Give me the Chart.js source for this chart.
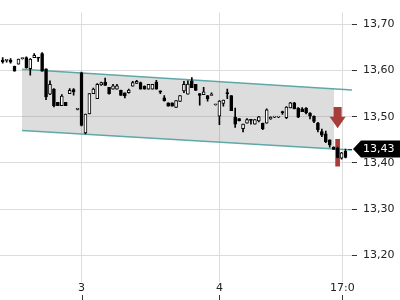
<!DOCTYPE html>
<html>
<head>
<meta charset="utf-8">
<script src="https://cdn.jsdelivr.net/npm/chart.js@4.4.0/dist/chart.umd.min.js"></script>
<style>
  html, body { margin: 0; padding: 0; background: #fff; }
</style>
</head>
<body>
<canvas id="grafikSaham" width="400" height="300"></canvas>
<script>
// Data candle 15 menit (indeks 20 = pembukaan hari 3, indeks 55 = pembukaan hari 4).
const hargaBuka = [
    13.623, 13.622, 13.623, 13.609, 13.614, 13.626, 13.628, 13.604, 13.628, 13.629,
    13.637, 13.604, 13.549, 13.560, 13.531, 13.524, 13.531, 13.550, 13.559, 13.516,
    13.595, 13.465, 13.506, 13.550, 13.539, 13.569, 13.575, 13.564, 13.560, 13.560,
    13.557, 13.552, 13.552, 13.566, 13.572, 13.574, 13.566, 13.560, 13.560, 13.575,
    13.556, 13.541, 13.530, 13.530, 13.520, 13.533, 13.556, 13.549, 13.578, 13.570,
    13.550, 13.548, 13.546, 13.546, 13.526, 13.501, 13.529, 13.551, 13.546, 13.499,
    13.496, 13.474, 13.486, 13.494, 13.484, 13.491, 13.486, 13.486, 13.495, 13.499,
    13.499, 13.511, 13.498, 13.519, 13.530, 13.519, 13.517, 13.519, 13.508, 13.501,
    13.486, 13.468, 13.463, 13.450, 13.434, 13.432, 13.410, 13.425
];
const hargaTertinggi = [
    13.628, 13.623, 13.626, 13.610, 13.625, 13.627, 13.630, 13.626, 13.637, 13.629,
    13.639, 13.604, 13.578, 13.561, 13.531, 13.548, 13.531, 13.561, 13.561, 13.517,
    13.597, 13.506, 13.550, 13.562, 13.572, 13.575, 13.584, 13.564, 13.570, 13.570,
    13.558, 13.552, 13.560, 13.577, 13.579, 13.575, 13.567, 13.570, 13.570, 13.579,
    13.556, 13.546, 13.530, 13.530, 13.535, 13.546, 13.577, 13.578, 13.585, 13.570,
    13.550, 13.564, 13.546, 13.552, 13.527, 13.535, 13.536, 13.560, 13.546, 13.519,
    13.496, 13.484, 13.496, 13.494, 13.494, 13.501, 13.486, 13.517, 13.500, 13.500,
    13.500, 13.512, 13.522, 13.531, 13.531, 13.520, 13.520, 13.520, 13.509, 13.502,
    13.488, 13.473, 13.469, 13.450, 13.435, 13.434, 13.423, 13.430
];
const hargaTerendah = [
    13.616, 13.618, 13.616, 13.599, 13.614, 13.625, 13.605, 13.590, 13.628, 13.620,
    13.599, 13.537, 13.548, 13.521, 13.524, 13.524, 13.524, 13.550, 13.547, 13.515,
    13.480, 13.463, 13.506, 13.550, 13.539, 13.568, 13.568, 13.549, 13.560, 13.560,
    13.546, 13.541, 13.551, 13.566, 13.572, 13.560, 13.560, 13.560, 13.560, 13.560,
    13.550, 13.534, 13.523, 13.523, 13.520, 13.533, 13.552, 13.549, 13.563, 13.557,
    13.525, 13.548, 13.534, 13.546, 13.525, 13.483, 13.523, 13.539, 13.513, 13.477,
    13.491, 13.467, 13.486, 13.484, 13.484, 13.489, 13.472, 13.486, 13.494, 13.498,
    13.498, 13.505, 13.496, 13.519, 13.517, 13.498, 13.511, 13.506, 13.495, 13.487,
    13.467, 13.457, 13.444, 13.434, 13.429, 13.411, 13.408, 13.411
];
const hargaTutup = [
    13.619, 13.622, 13.618, 13.599, 13.625, 13.626, 13.606, 13.625, 13.633, 13.627,
    13.599, 13.543, 13.570, 13.524, 13.524, 13.545, 13.524, 13.557, 13.554, 13.516,
    13.481, 13.506, 13.550, 13.560, 13.570, 13.574, 13.568, 13.550, 13.567, 13.567,
    13.546, 13.545, 13.558, 13.574, 13.577, 13.560, 13.560, 13.570, 13.570, 13.560,
    13.553, 13.535, 13.523, 13.523, 13.535, 13.546, 13.570, 13.571, 13.563, 13.557,
    13.546, 13.554, 13.539, 13.549, 13.526, 13.534, 13.536, 13.550, 13.513, 13.484,
    13.491, 13.484, 13.494, 13.492, 13.494, 13.500, 13.474, 13.515, 13.499, 13.499,
    13.499, 13.509, 13.521, 13.530, 13.517, 13.499, 13.511, 13.509, 13.501, 13.490,
    13.472, 13.460, 13.446, 13.439, 13.429, 13.412, 13.422, 13.412
];

// Label dan posisi tick sumbu.
const tickSumbuX = [20, 55, 86.2];
const labelSumbuX = ['3', '4', '17:0'];
const tickSumbuY = [13.2, 13.3, 13.4, 13.5, 13.6, 13.7];

// Kanal tren (area abu-abu dan dua garis batas).
const kanalX = [4.9, 84.1];
const kanalAtas = [13.603, 13.5605];
const kanalBawah = [13.470, 13.430];
const garisX = [4.9, 88.65];
const garisAtas = [13.603, 13.558];
const garisBawah = [13.470, 13.428];

// Sinyal jual dan harga terakhir.
const indeksSinyal = 85;
const batangSinyal = [13.393, 13.451];
const panahSinyal = [13.521, 13.500, 13.475];
const hargaTerakhir = 13.43;

const warnaSinyal = '#a83c3a';
const fontSumbu = { family: 'DejaVu Sans', size: 11 };
const formatHarga = v => v.toFixed(2).replace('.', ',');

// Plugin untuk tick bawah, panah sinyal dan label harga terakhir.
const pluginAnotasi = {
    id: 'anotasi',
    afterDraw(chart) {
        const { ctx, chartArea, scales: { x, y } } = chart;
        ctx.save();

        ctx.strokeStyle = '#333';
        ctx.lineWidth = 1;
        tickSumbuX.forEach(v => {
            const px = Math.round(x.getPixelForValue(v)) + 0.5;
            ctx.beginPath();
            ctx.moveTo(px, 295);
            ctx.lineTo(px, 300);
            ctx.stroke();
        });

        const ax = x.getPixelForValue(indeksSinyal);
        const yPangkal = y.getPixelForValue(panahSinyal[0]);
        const yLeher = y.getPixelForValue(panahSinyal[1]);
        const yUjung = y.getPixelForValue(panahSinyal[2]);
        ctx.fillStyle = warnaSinyal;
        ctx.beginPath();
        ctx.moveTo(ax - 4, yPangkal);
        ctx.lineTo(ax + 4, yPangkal);
        ctx.lineTo(ax + 4, yLeher);
        ctx.lineTo(ax + 8, yLeher);
        ctx.lineTo(ax, yUjung);
        ctx.lineTo(ax - 8, yLeher);
        ctx.lineTo(ax - 4, yLeher);
        ctx.closePath();
        ctx.fill();

        const py = y.getPixelForValue(hargaTerakhir);
        const kiri = chartArea.right + 1;
        ctx.beginPath();
        ctx.moveTo(chartArea.right - 4, Math.round(py) + 0.5);
        ctx.lineTo(chartArea.right, Math.round(py) + 0.5);
        ctx.stroke();
        ctx.fillStyle = '#000';
        ctx.beginPath();
        ctx.moveTo(kiri, py);
        ctx.lineTo(kiri + 8, py - 8.5);
        ctx.lineTo(chart.width, py - 8.5);
        ctx.lineTo(chart.width, py + 8.5);
        ctx.lineTo(kiri + 8, py + 8.5);
        ctx.closePath();
        ctx.fill();
        ctx.fillStyle = '#fff';
        ctx.font = '11px "DejaVu Sans"';
        ctx.textBaseline = 'middle';
        ctx.textAlign = 'left';
        ctx.fillText(formatHarga(hargaTerakhir), 363, py + 0.5);

        ctx.restore();
    }
};

const grafik = new Chart(document.getElementById('grafikSaham'), {
    type: 'bar',
    data: {
        datasets: [
            {
                type: 'line', data: kanalX.map((v, i) => ({ x: v, y: kanalAtas[i] })),
                borderColor: 'rgba(0,0,0,0)', pointRadius: 0, fill: '+1',
                backgroundColor: 'rgba(128,128,128,0.27)', order: 10
            },
            {
                type: 'line', data: kanalX.map((v, i) => ({ x: v, y: kanalBawah[i] })),
                borderColor: 'rgba(0,0,0,0)', pointRadius: 0, fill: false, order: 11
            },
            {
                type: 'line', data: garisX.map((v, i) => ({ x: v, y: garisAtas[i] })),
                borderColor: '#5fa8a8', borderWidth: 1.5, pointRadius: 0, fill: false, order: 5
            },
            {
                type: 'line', data: garisX.map((v, i) => ({ x: v, y: garisBawah[i] })),
                borderColor: '#5fa8a8', borderWidth: 1.5, pointRadius: 0, fill: false, order: 5
            },
            {
                data: [{ x: indeksSinyal, y: batangSinyal }],
                backgroundColor: warnaSinyal, barThickness: 4, grouped: false, order: 4
            },
            {
                data: hargaTerendah.map((l, i) => ({ x: i, y: [l, hargaTertinggi[i]] })),
                backgroundColor: '#000', barThickness: 1, grouped: false, order: 2
            },
            {
                data: hargaBuka.map((o, i) => ({ x: i, y: [o, hargaTutup[i]] })),
                backgroundColor: hargaBuka.map((o, i) => hargaTutup[i] >= o ? '#fff' : '#000'),
                borderColor: '#000', borderWidth: 1, borderSkipped: false,
                barThickness: 3, minBarLength: 1, grouped: false, order: 1
            }
        ]
    },
    options: {
        responsive: false,
        animation: false,
        events: [],
        layout: { padding: 0 },
        plugins: { legend: { display: false }, tooltip: { enabled: false } },
        scales: {
            x: {
                type: 'linear', min: -0.685, max: 88.65, offset: false,
                afterBuildTicks: s => { s.ticks = tickSumbuX.map(v => ({ value: v })); },
                afterFit: s => { s.height = 18; },
                ticks: {
                    autoSkip: false, maxRotation: 0, padding: 0, color: '#222', font: fontSumbu,
                    callback: (v, i) => labelSumbuX[i]
                },
                grid: { color: '#dcdcdc', drawTicks: false, offset: false },
                border: { display: false }
            },
            y: {
                position: 'right', min: 13.1418, max: 13.7257, beginAtZero: false,
                afterBuildTicks: s => { s.ticks = tickSumbuY.map(v => ({ value: v })); },
                afterFit: s => { s.width = 48; },
                ticks: { padding: 6, color: '#222', font: fontSumbu, callback: v => formatHarga(v) },
                grid: { color: '#dcdcdc', tickColor: '#333', tickLength: 5 },
                border: { display: false }
            }
        }
    },
    plugins: [pluginAnotasi]
});
</script>
</body>
</html>
